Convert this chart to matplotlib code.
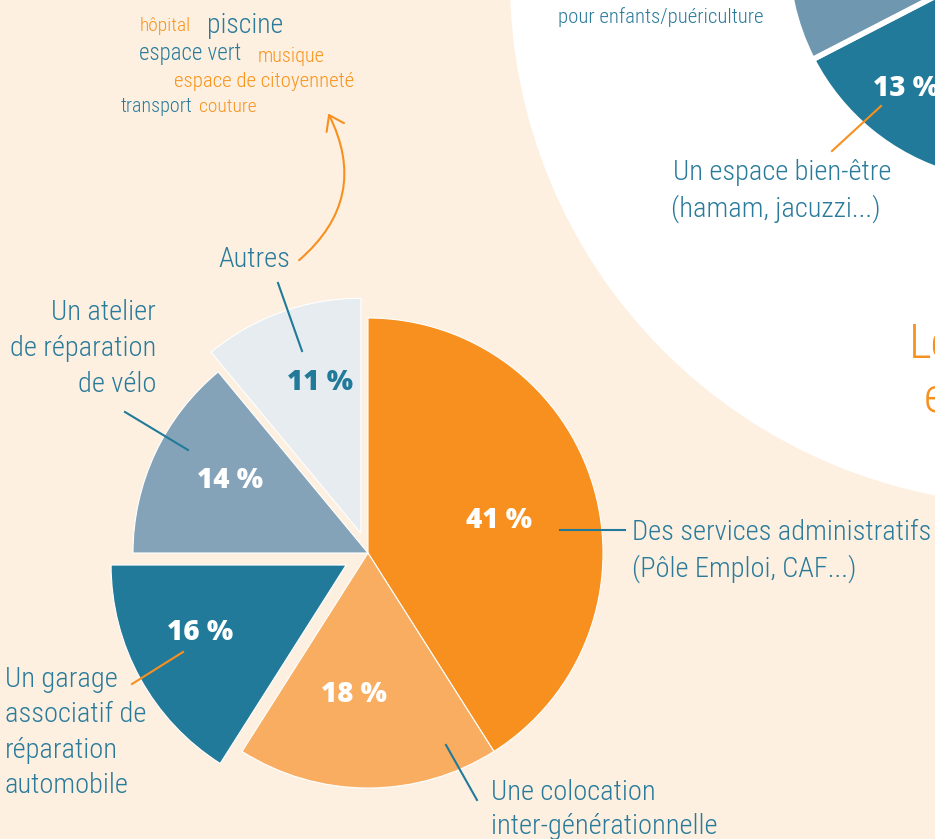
import matplotlib
matplotlib.use('Agg')
import matplotlib.pyplot as plt
from matplotlib import font_manager
from matplotlib.patches import Circle, FancyArrowPatch

# Données du camembert principal
categories = ['Des services administratifs', 'Une colocation inter-générationnelle',
              'Un garage associatif de réparation automobile',
              'Un atelier de réparation de vélo', 'Autres']
values = [41, 18, 16, 14, 11]

# Camembert partiel (en haut à droite)
other_categories = ['Un espace bien-être', 'Un mode de garde pour enfants/puériculture']
other_values = [13, 17]

# Nuage de mots "Autres"
words = ['hôpital', 'piscine', 'espace vert', 'musique',
         'espace de citoyenneté', 'transport', 'couture']

BG = '#fdf0e1'
ORANGE = '#f7901e'
LIGHT_ORANGE = '#f9ad60'
TEAL = '#217a99'
GREYBLUE = '#84a3b8'
LIGHTGREY = '#e7ecf0'
SLATE = '#6f97b0'
TXT = '#2a7b9b'
TXT_OR = '#f7941d'

names = {f.name for f in font_manager.fontManager.ttflist}
label_font = 'DejaVu Sans'
for cand in ['Liberation Sans Narrow', 'Roboto Condensed', 'Open Sans Condensed', 'Roboto']:
    if cand in names:
        label_font = cand
        break
bold_font = 'Open Sans' if 'Open Sans' in names else 'DejaVu Sans'
LW = 'light'

fig = plt.figure(figsize=(9.35, 8.39), dpi=100, facecolor=BG)
ax = fig.add_axes([0, 0, 1, 1])

# grand cercle blanc en haut à droite
ax.add_patch(Circle((1035, -20), 525, facecolor='white', edgecolor='none', zorder=0))

# camembert partiel
ax.pie([v / 100 for v in other_values], colors=[TEAL, SLATE], startangle=105.9,
       counterclock=True, normalize=False, center=(1015, -45), radius=228,
       wedgeprops=dict(edgecolor='white', linewidth=4))

# camembert principal (explode en unités de données)
colors = [ORANGE, LIGHT_ORANGE, TEAL, GREYBLUE, LIGHTGREY]
explode = [0, 0, 25, 0, 21]
ax.pie(values, colors=colors, explode=explode, startangle=-90, counterclock=True,
       center=(368, 553), radius=235, wedgeprops=dict(edgecolor='white', linewidth=0.8))

# pie() remet les limites : on les fixe après
ax.set_xlim(0, 935)
ax.set_ylim(839, 0)
ax.set_aspect('equal')
ax.set_axis_off()

ax.text(873, 88, f'{other_values[0]} %', color='white', fontsize=20, fontweight='heavy',
        family=bold_font, ha='left', va='center')
ax.plot([832, 881], [151, 106], color=ORANGE, lw=1.5)
ax.text(782, 180, 'Un espace bien-être', color=TXT, fontsize=20.5, family=label_font,
        fontweight=LW, ha='center', va='baseline')
ax.text(776, 217, '(hamam, jacuzzi...)', color=TXT, fontsize=20.5, family=label_font,
        fontweight=LW, ha='center', va='baseline')
ax.text(558, 23, 'pour enfants/puériculture', color=TXT, fontsize=15, family=label_font,
        fontweight=LW, ha='left', va='baseline')
ax.text(909, 358, 'Les', color=ORANGE, fontsize=35, family=label_font, fontweight=LW,
        ha='left', va='baseline')
ax.text(924, 412, 'en', color=ORANGE, fontsize=35, family=label_font, fontweight=LW,
        ha='left', va='baseline')

pct_pos = [(499, 520), (354, 695), (200, 633), (230, 480), (320, 383)]
pct_col = ['white', 'white', 'white', 'white', TEAL]
for v, (x, y), c in zip(values, pct_pos, pct_col):
    ax.text(x, y, f'{v} %', color=c, fontsize=20, fontweight='heavy', family=bold_font,
            ha='center', va='center')

# étiquettes
def lines(x, y0, txt, ha='left', step=35.3):
    for i, t in enumerate(txt):
        ax.text(x, y0 + i * step, t, color=TXT, fontsize=20.5, family=label_font,
                fontweight=LW, ha=ha, va='baseline')

ax.plot([560, 625], [530, 530], color=TEAL, lw=1.5)
lines(632, 540, ['Des services administratifs', '(Pôle Emploi, CAF...)'], step=37)
ax.plot([446, 477], [745, 800], color=TEAL, lw=1.5)
lines(491, 800, ['Une colocation', 'inter-générationnelle'], step=34)
ax.plot([183, 132], [652, 684], color=ORANGE, lw=1.5)
lines(5, 687, ['Un garage', 'associatif de', 'réparation', 'automobile'])
ax.plot([125, 188], [412, 450], color=TEAL, lw=1.5)
lines(156, 320, ['Un atelier', 'de réparation', 'de vélo'], ha='right', step=36)
ax.plot([278, 302], [283, 351], color=TEAL, lw=1.5)
lines(218, 267, ['Autres'])

# flèche courbe vers le nuage de mots
arr = FancyArrowPatch((297, 262), (327, 111), connectionstyle='arc3,rad=0.4',
                      arrowstyle='->,head_length=10,head_width=7', color=ORANGE, lw=1.5)
ax.add_patch(arr)

# nuage de mots
word_pos = [(140, 31), (207, 33), (139, 60), (258, 62), (174, 87), (121, 112), (199, 112)]
word_size = [14, 20, 16.5, 14.5, 15, 14.5, 14]
word_col = [TXT_OR, TXT, TXT, TXT_OR, TXT_OR, TXT, TXT_OR]
for w, (x, y), s, c in zip(words, word_pos, word_size, word_col):
    ax.text(x, y, w, color=c, fontsize=s, family=label_font, fontweight=LW,
            ha='left', va='baseline')

fig.savefig('out.png', dpi=100, facecolor=BG)
